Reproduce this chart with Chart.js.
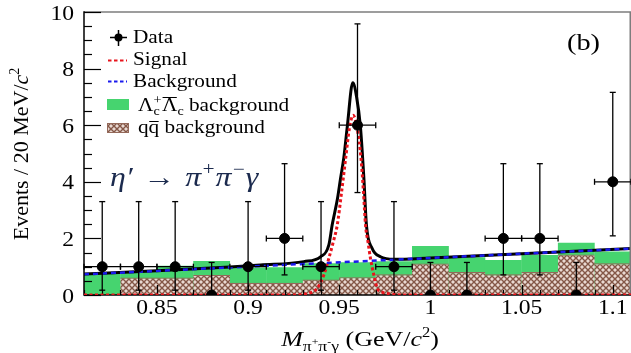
<!DOCTYPE html>
<html>
<head>
<meta charset="utf-8">
<script src="https://cdn.jsdelivr.net/npm/chart.js@4/dist/chart.umd.min.js"></script>
<style>
  html, body { margin: 0; padding: 0; background: #fff; }
  #wrap { width: 631px; height: 353px; position: relative; }
</style>
</head>
<body>
<div id="wrap"><canvas id="chart" width="631" height="353"></canvas></div>
<script>
// Bin centres of the 20 MeV/c^2 mass bins (GeV/c^2)
const binCenters = [0.82, 0.84, 0.86, 0.88, 0.90, 0.92, 0.94, 0.96, 0.98, 1.00, 1.02, 1.04, 1.06, 1.08, 1.10];
const binHalfWidth = 0.01;

// Observed events and their asymmetric (Poisson) uncertainties
const dataCounts = [1, 1, 1, 0, 1, 2, 1, 6, 1, 0, 0, 2, 2, 0, 4];
const errLow  = [0.83, 0.83, 0.83, 0, 0.83, 1.29, 0.83, 2.38, 0.83, 0, 0, 1.29, 1.29, 0, 1.91];
const errHigh = [2.30, 2.30, 2.30, 1.15, 2.30, 2.64, 2.30, 3.58, 2.30, 1.15, 1.15, 2.64, 2.64, 1.15, 3.16];

// Background histograms per bin
const qqbarBkg   = [0.00, 0.62, 0.62, 0.71, 0.43, 0.43, 0.55, 0.63, 0.73, 1.11, 0.81, 0.73, 0.81, 1.43, 1.12];
const lambdaCBkg = [0.76, 0.20, 0.41, 0.49, 0.54, 0.55, 0.57, 0.53, 0.46, 0.62, 0.52, 0.51, 0.60, 0.42, 0.42];

// Fit curves
const bkgX = [0.81, 1.11];
const bkgY = [0.73, 1.64];

const signalX = [0.81, 0.925, 0.9324, 0.9379, 0.9415, 0.9443, 0.9468, 0.9489, 0.9512, 0.9534, 0.9556, 0.9576,
                 0.9598, 0.9620, 0.9633, 0.9644, 0.9658, 0.9671, 0.9690, 0.9708, 0.9735, 0.9763, 0.985, 1.11];
const signalY = [0, 0, 0.05, 0.24, 0.70, 1.30, 1.90, 2.47, 3.60, 4.77, 5.90, 6.35,
                 5.90, 4.77, 3.60, 2.47, 1.85, 1.30, 0.70, 0.24, 0.10, 0.05, 0, 0];

const totalX = [0.81, 0.85, 0.89, 0.9068, 0.9306, 0.9397, 0.9443, 0.9461, 0.9490, 0.9507, 0.9525, 0.9544, 0.9574,
                0.9595, 0.9616, 0.9635, 0.9649, 0.9680, 0.9726, 0.980, 1.00, 1.11];
const totalY = [0.74, 0.86, 0.99, 1.06, 1.18, 1.35, 1.77, 2.47, 3.40, 4.12, 4.85, 5.95, 7.50,
                7.00, 5.95, 4.12, 2.47, 1.65, 1.35, 1.26, 1.31, 1.64];

// Axis ticks
const xTickValues = [0.85, 0.90, 0.95, 1.00, 1.05, 1.10];
const xTickLabels = ['0.85', '0.9', '0.95', '1', '1.05', '1.1'];
const yTickValues = [0, 2, 4, 6, 8, 10];
const yTickLabels = ['0', '2', '4', '6', '8', '10'];

const SERIF = '"Liberation Serif", "Times New Roman", serif';
const GREEN = '#46d46f';
const BROWN_EDGE = '#94695a';
const SX = 1.18;   // horizontal glyph stretch used for all lettering

function makeHatch() {
  const c = document.createElement('canvas');
  c.width = 6; c.height = 6;
  const g = c.getContext('2d');
  g.fillStyle = '#e9d9d2';
  g.fillRect(0, 0, 6, 6);
  g.strokeStyle = '#845747';
  g.lineWidth = 1.4;
  g.beginPath();
  g.moveTo(0, 0); g.lineTo(6, 6);
  g.moveTo(6, 0); g.lineTo(0, 6);
  g.stroke();
  return g.createPattern(c, 'repeat');
}
const hatch = makeHatch();

const pts = (xs, ys) => xs.map((x, i) => ({ x, y: ys[i] }));

function seg(ctx, x1, y1, x2, y2) {
  ctx.beginPath(); ctx.moveTo(x1, y1); ctx.lineTo(x2, y2); ctx.stroke();
}

function runWidth(ctx, pieces) {
  let w = 0;
  for (const p of pieces) { ctx.font = p.font; w += ctx.measureText(p.t).width + (p.gap || 0); }
  return w;
}

// Draws text pieces [{t, font, dy, gap}] at (x, y); align 0 = left, 0.5 = centre, 1 = right.
function drawRun(ctx, pieces, x, y, align, sx) {
  const s = sx || SX;
  const w = runWidth(ctx, pieces);
  ctx.save();
  ctx.translate(x, y);
  ctx.scale(s, 1);
  let cx = -w * (align || 0);
  for (const p of pieces) {
    ctx.font = p.font;
    ctx.fillText(p.t, cx, p.dy || 0);
    cx += ctx.measureText(p.t).width + (p.gap || 0);
  }
  ctx.restore();
  return w;
}

const frameAndTicks = {
  id: 'frameAndTicks',
  beforeDatasetDraw(chart, args) {
    if (args.meta.label !== 'Signal') return;
    const { ctx, chartArea: a, scales: { x, y } } = chart;
    ctx.save();
    // frame
    ctx.lineWidth = 1.5;
    ctx.strokeStyle = '#7d7d7d';
    seg(ctx, a.left, a.top, a.right, a.top);
    seg(ctx, a.right - 0.75, a.top, a.right - 0.75, a.bottom);
    ctx.strokeStyle = '#000';
    seg(ctx, a.left, a.top - 0.75, a.left, a.bottom + 0.75);
    seg(ctx, a.left, a.bottom, a.right, a.bottom);
    // y ticks (inside)
    ctx.lineWidth = 1.2;
    for (let v = 0; v <= 10.001; v += 0.5) {
      const py = Math.round(y.getPixelForValue(v)) + 0.5;
      const major = Math.abs(v / 2 - Math.round(v / 2)) < 1e-6;
      seg(ctx, a.left, py, a.left + (major ? 17 : 8), py);
    }
    // x ticks (inside)
    for (let k = 81; k <= 111; k++) {
      const v = k / 100;
      const px = Math.round(x.getPixelForValue(v)) + 0.5;
      const major = k % 5 === 0;
      seg(ctx, px, a.bottom, px, a.bottom - (major ? 10 : 5));
    }
    ctx.restore();
  },
  afterDatasetsDraw(chart) {
    const { ctx, scales: { x, y } } = chart;
    ctx.save();
    ctx.strokeStyle = '#000';
    ctx.lineWidth = 1.3;
    binCenters.forEach((c, i) => {
      const n = dataCounts[i];
      const px = x.getPixelForValue(c);
      const py = y.getPixelForValue(n);
      const yl = y.getPixelForValue(n - errLow[i]);
      const yh = y.getPixelForValue(n + errHigh[i]);
      seg(ctx, px, yl, px, yh);
      seg(ctx, px - 3, yh, px + 3, yh);
      if (errLow[i] > 0) seg(ctx, px - 3, yl, px + 3, yl);
      if (n > 0) {
        const xl = x.getPixelForValue(c - binHalfWidth);
        const xr = x.getPixelForValue(c + binHalfWidth);
        seg(ctx, xl, py, xr, py);
        seg(ctx, xl, py - 3, xl, py + 3);
        seg(ctx, xr, py - 3, xr, py + 3);
      }
    });
    ctx.restore();
  },
  afterDraw(chart) {
    const { ctx, scales: { x, y } } = chart;
    ctx.save();
    ctx.textBaseline = 'alphabetic';
    ctx.textAlign = 'left';
    ctx.fillStyle = '#000';

    // ---- tick labels ----
    const TF = '20px ' + SERIF;
    xTickValues.forEach((v, i) => {
      drawRun(ctx, [{ t: xTickLabels[i], font: TF }], x.getPixelForValue(v), 314, 0.5);
    });
    yTickValues.forEach((v, i) => {
      drawRun(ctx, [{ t: yTickLabels[i], font: TF }], 74, y.getPixelForValue(v) + 7.5, 1);
    });

    // ---- legend ----
    const F = '18px ' + SERIF;
    const FS = '12px ' + SERIF;
    // Data
    ctx.strokeStyle = '#000'; ctx.lineWidth = 1.5;
    seg(ctx, 110, 37.5, 127, 37.5);
    seg(ctx, 118.5, 30, 118.5, 46);
    ctx.beginPath(); ctx.arc(118.5, 37.5, 4, 0, Math.PI * 2); ctx.fill();
    drawRun(ctx, [{ t: 'Data', font: F }], 133, 43);
    // Signal
    ctx.setLineDash([3.5, 2.5]);
    ctx.strokeStyle = '#e8141c'; ctx.lineWidth = 1.8;
    seg(ctx, 108, 60.5, 127, 60.5);
    drawRun(ctx, [{ t: 'Signal', font: F }], 133, 65);
    // Background
    ctx.strokeStyle = '#1a1aee';
    seg(ctx, 108, 81.5, 127, 81.5);
    ctx.setLineDash([]);
    drawRun(ctx, [{ t: 'Background', font: F }], 133, 87);

    // Lambda_c pair background
    ctx.fillStyle = GREEN; ctx.fillRect(107, 99, 22, 11);
    ctx.fillStyle = '#000';
    ctx.save();
    ctx.translate(138, 111);
    ctx.scale(SX, 1);
    let cx = 0;
    ctx.font = F; ctx.fillText('\u039B', cx, 0); cx += ctx.measureText('\u039B').width;
    ctx.font = FS; ctx.fillText('c', cx, 4); ctx.fillText('+', cx, -7);
    cx += Math.max(ctx.measureText('c').width, ctx.measureText('+').width) + 0.5;
    ctx.font = F;
    const lw = ctx.measureText('\u039B').width;
    ctx.fillText('\u039B', cx, 0);
    ctx.lineWidth = 1; ctx.strokeStyle = '#000';
    seg(ctx, cx + 0.5, -13.5, cx + lw - 0.5, -13.5);
    cx += lw;
    ctx.font = FS; ctx.fillText('c', cx, 4); cx += ctx.measureText('c').width;
    ctx.font = F; ctx.fillText(' background', cx, 0);
    ctx.restore();

    // qqbar background
    ctx.fillStyle = hatch; ctx.fillRect(107, 123, 22, 10);
    ctx.strokeStyle = BROWN_EDGE; ctx.lineWidth = 1; ctx.strokeRect(107.5, 123.5, 21, 9);
    ctx.fillStyle = '#000';
    ctx.save();
    ctx.translate(138, 133);
    ctx.scale(SX, 1);
    cx = 0;
    ctx.font = F; ctx.fillText('q', cx, 0);
    const qw = ctx.measureText('q').width;
    cx += qw;
    ctx.fillText('q', cx, 0);
    ctx.strokeStyle = '#000';
    seg(ctx, cx + 0.5, -11.5, cx + qw - 0.5, -11.5);
    cx += qw;
    ctx.fillText(' background', cx, 0);
    ctx.restore();

    // ---- decay label ----
    ctx.fillStyle = '#1b2a4e';
    const DI = 'italic 27px ' + SERIF;
    const DS = 'italic 18px ' + SERIF;
    drawRun(ctx, [
      { t: '\u03B7\u2032', font: DI, gap: 2 },
      { t: ' \u2192 ', font: DI, gap: 2 },
      { t: '\u03C0', font: DI },
      { t: '+', font: DS, dy: -11 },
      { t: '\u03C0', font: DI },
      { t: '\u2212', font: DS, dy: -11 },
      { t: '\u03B3', font: DI }
    ], 110, 186);

    // ---- panel tag ----
    ctx.fillStyle = '#000';
    drawRun(ctx, [{ t: '(b)', font: '24px ' + SERIF }], 567, 50);

    // ---- x title ----
    const xt = [
      { t: 'M', font: 'italic 22px ' + SERIF },
      { t: '\u03C0', font: '15px ' + SERIF, dy: 5 },
      { t: '+', font: '10px ' + SERIF, dy: -1 },
      { t: '\u03C0', font: '15px ' + SERIF, dy: 5 },
      { t: '-', font: '10px ' + SERIF, dy: -1 },
      { t: '\u03B3', font: '15px ' + SERIF, dy: 5 },
      { t: ' (GeV/', font: '22px ' + SERIF },
      { t: 'c', font: 'italic 22px ' + SERIF },
      { t: '2', font: '14px ' + SERIF, dy: -9 },
      { t: ')', font: '22px ' + SERIF }
    ];
    drawRun(ctx, xt, 360, 346, 0.5);

    // ---- y title ----
    const yt = [
      { t: 'Events / 20 MeV/', font: '22px ' + SERIF },
      { t: 'c', font: 'italic 22px ' + SERIF },
      { t: '2', font: '14px ' + SERIF, dy: -9 }
    ];
    ctx.translate(28, 154);
    ctx.rotate(-Math.PI / 2);
    drawRun(ctx, yt, 0, 0, 0.5, 1);
    ctx.restore();
  }
};

const ctx = document.getElementById('chart').getContext('2d');
new Chart(ctx, {
  type: 'line',
  data: {
    datasets: [
      {
        type: 'scatter', label: 'Data', data: pts(binCenters, dataCounts),
        pointRadius: 5, pointHoverRadius: 5, pointBackgroundColor: '#000', pointBorderColor: '#000',
        showLine: false, order: 0
      },
      {
        label: 'Signal', data: pts(signalX, signalY),
        borderColor: '#e8141c', borderWidth: 3, borderDash: [3, 2.5],
        pointRadius: 0, cubicInterpolationMode: 'monotone', fill: false, order: 1
      },
      {
        label: 'Background', data: pts(bkgX, bkgY),
        borderColor: '#1a1aee', borderWidth: 2.5, borderDash: [5, 4],
        pointRadius: 0, fill: false, order: 2
      },
      {
        label: 'Total', data: pts(totalX, totalY),
        borderColor: '#000', borderWidth: 3,
        pointRadius: 0, cubicInterpolationMode: 'monotone', fill: false, order: 3
      },
      {
        type: 'bar', label: 'qqbar', data: pts(binCenters, qqbarBkg),
        backgroundColor: hatch, borderColor: BROWN_EDGE,
        borderWidth: { top: 1.2, left: 0, right: 0, bottom: 0 },
        grouped: false, barPercentage: 1.01, categoryPercentage: 1, order: 4
      },
      {
        type: 'bar', label: 'LambdaC',
        data: binCenters.map((x, i) => ({ x, y: qqbarBkg[i] + lambdaCBkg[i] })),
        backgroundColor: GREEN, borderWidth: 0,
        grouped: false, barPercentage: 1.01, categoryPercentage: 1, order: 5
      }
    ]
  },
  options: {
    responsive: false,
    animation: false,
    devicePixelRatio: 1,
    layout: { autoPadding: false, padding: { top: 12, left: 0, right: 0, bottom: 0 } },
    plugins: { legend: { display: false }, tooltip: { enabled: false } },
    events: [],
    scales: {
      x: {
        type: 'linear', min: 0.81, max: 1.11, offset: false,
        grid: { display: false, drawTicks: false, offset: false },
        border: { display: false },
        ticks: { display: false },
        afterBuildTicks: (s) => { s.ticks = xTickValues.map(v => ({ value: v })); },
        afterFit: (s) => { s.height = 58; s.paddingLeft = 0; s.paddingRight = 0; }
      },
      y: {
        type: 'linear', min: 0, max: 10,
        grid: { display: false, drawTicks: false },
        border: { display: false },
        ticks: { display: false },
        afterBuildTicks: (s) => { s.ticks = yTickValues.map(v => ({ value: v })); },
        afterFit: (s) => { s.width = 84; s.paddingTop = 0; s.paddingBottom = 0; }
      }
    }
  },
  plugins: [frameAndTicks]
});
</script>
</body>
</html>
